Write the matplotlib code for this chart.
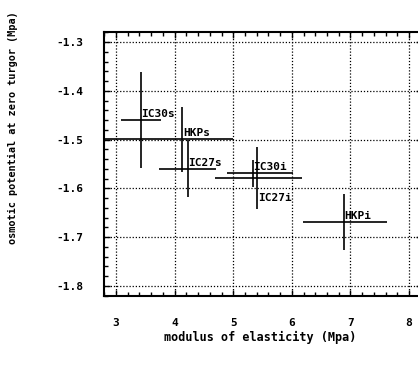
"""Osmotic potential at zero turgor vs. modulus of elasticity, with error bars."""

import matplotlib.pyplot as plt
from matplotlib.ticker import MultipleLocator, FormatStrFormatter

labels = ["IC30s", "HKPs", "IC27s", "IC30i", "IC27i", "HKPi"]
modulus = [3.42, 4.13, 4.22, 5.33, 5.41, 6.89]
potential = [-1.460, -1.499, -1.560, -1.569, -1.579, -1.669]
modulus_lo = [3.08, 2.70, 3.73, 4.90, 4.69, 6.19]
modulus_hi = [3.76, 4.99, 4.71, 6.02, 6.17, 7.63]
potential_lo = [-1.558, -1.566, -1.618, -1.597, -1.643, -1.726]
potential_hi = [-1.361, -1.433, -1.501, -1.542, -1.515, -1.611]

FONT = "DejaVu Sans Mono"

xerr = [[m - lo for m, lo in zip(modulus, modulus_lo)],
        [hi - m for m, hi in zip(modulus, modulus_hi)]]
yerr = [[p - lo for p, lo in zip(potential, potential_lo)],
        [hi - p for p, hi in zip(potential, potential_hi)]]

fig = plt.figure(figsize=(4.18, 3.75), dpi=100)
ax = fig.add_axes([104 / 418, 1 - 296 / 375, 318 / 418, 264 / 375])

ax.errorbar(modulus, potential, xerr=xerr, yerr=yerr, fmt="none",
            ecolor="black", elinewidth=1.2, capsize=0)

# labels sit on the point, except IC27i which hangs below it
for name, x, y in zip(labels, modulus, potential):
    if name == "IC27i":
        ax.text(x + 0.01, y - 0.03, name, ha="left", va="top",
                fontsize=8, family=FONT, fontweight="bold")
    else:
        ax.text(x + 0.01, y + 0.002, name, ha="left", va="bottom",
                fontsize=8, family=FONT, fontweight="bold")

ax.set_xlim(2.795, 8.22)
ax.set_ylim(-1.8205, -1.2795)
ax.xaxis.set_major_locator(MultipleLocator(1))
ax.xaxis.set_minor_locator(MultipleLocator(0.2))
ax.yaxis.set_major_locator(MultipleLocator(0.1))
ax.yaxis.set_minor_locator(MultipleLocator(0.02))
ax.yaxis.set_major_formatter(FormatStrFormatter("%.1f"))

ax.grid(True, which="major", color="black", linestyle=(0, (1, 1.5)), linewidth=0.9)
ax.tick_params(which="both", direction="in", top=True, right=True, colors="black")
ax.tick_params(which="major", length=4, width=1)
ax.tick_params(which="minor", length=3, width=1)
ax.tick_params(axis="y", pad=15)
ax.tick_params(axis="x", pad=16)
for lab in ax.get_xticklabels() + ax.get_yticklabels():
    lab.set_family(FONT)
    lab.set_fontweight("bold")
    lab.set_fontsize(8)
for sp in ax.spines.values():
    sp.set_linewidth(1.5)

fig.text(13 / 418, 1 - 128 / 375, "osmotic potential at zero turgor (Mpa)",
         rotation=90, ha="center", va="center", fontsize=7.3,
         family=FONT, fontweight="bold")
fig.text(260 / 418, 1 - 337 / 375, "modulus of elasticity (Mpa)",
         ha="center", va="center", fontsize=8.5, family=FONT, fontweight="bold")

fig.savefig("out.png", dpi=100)
